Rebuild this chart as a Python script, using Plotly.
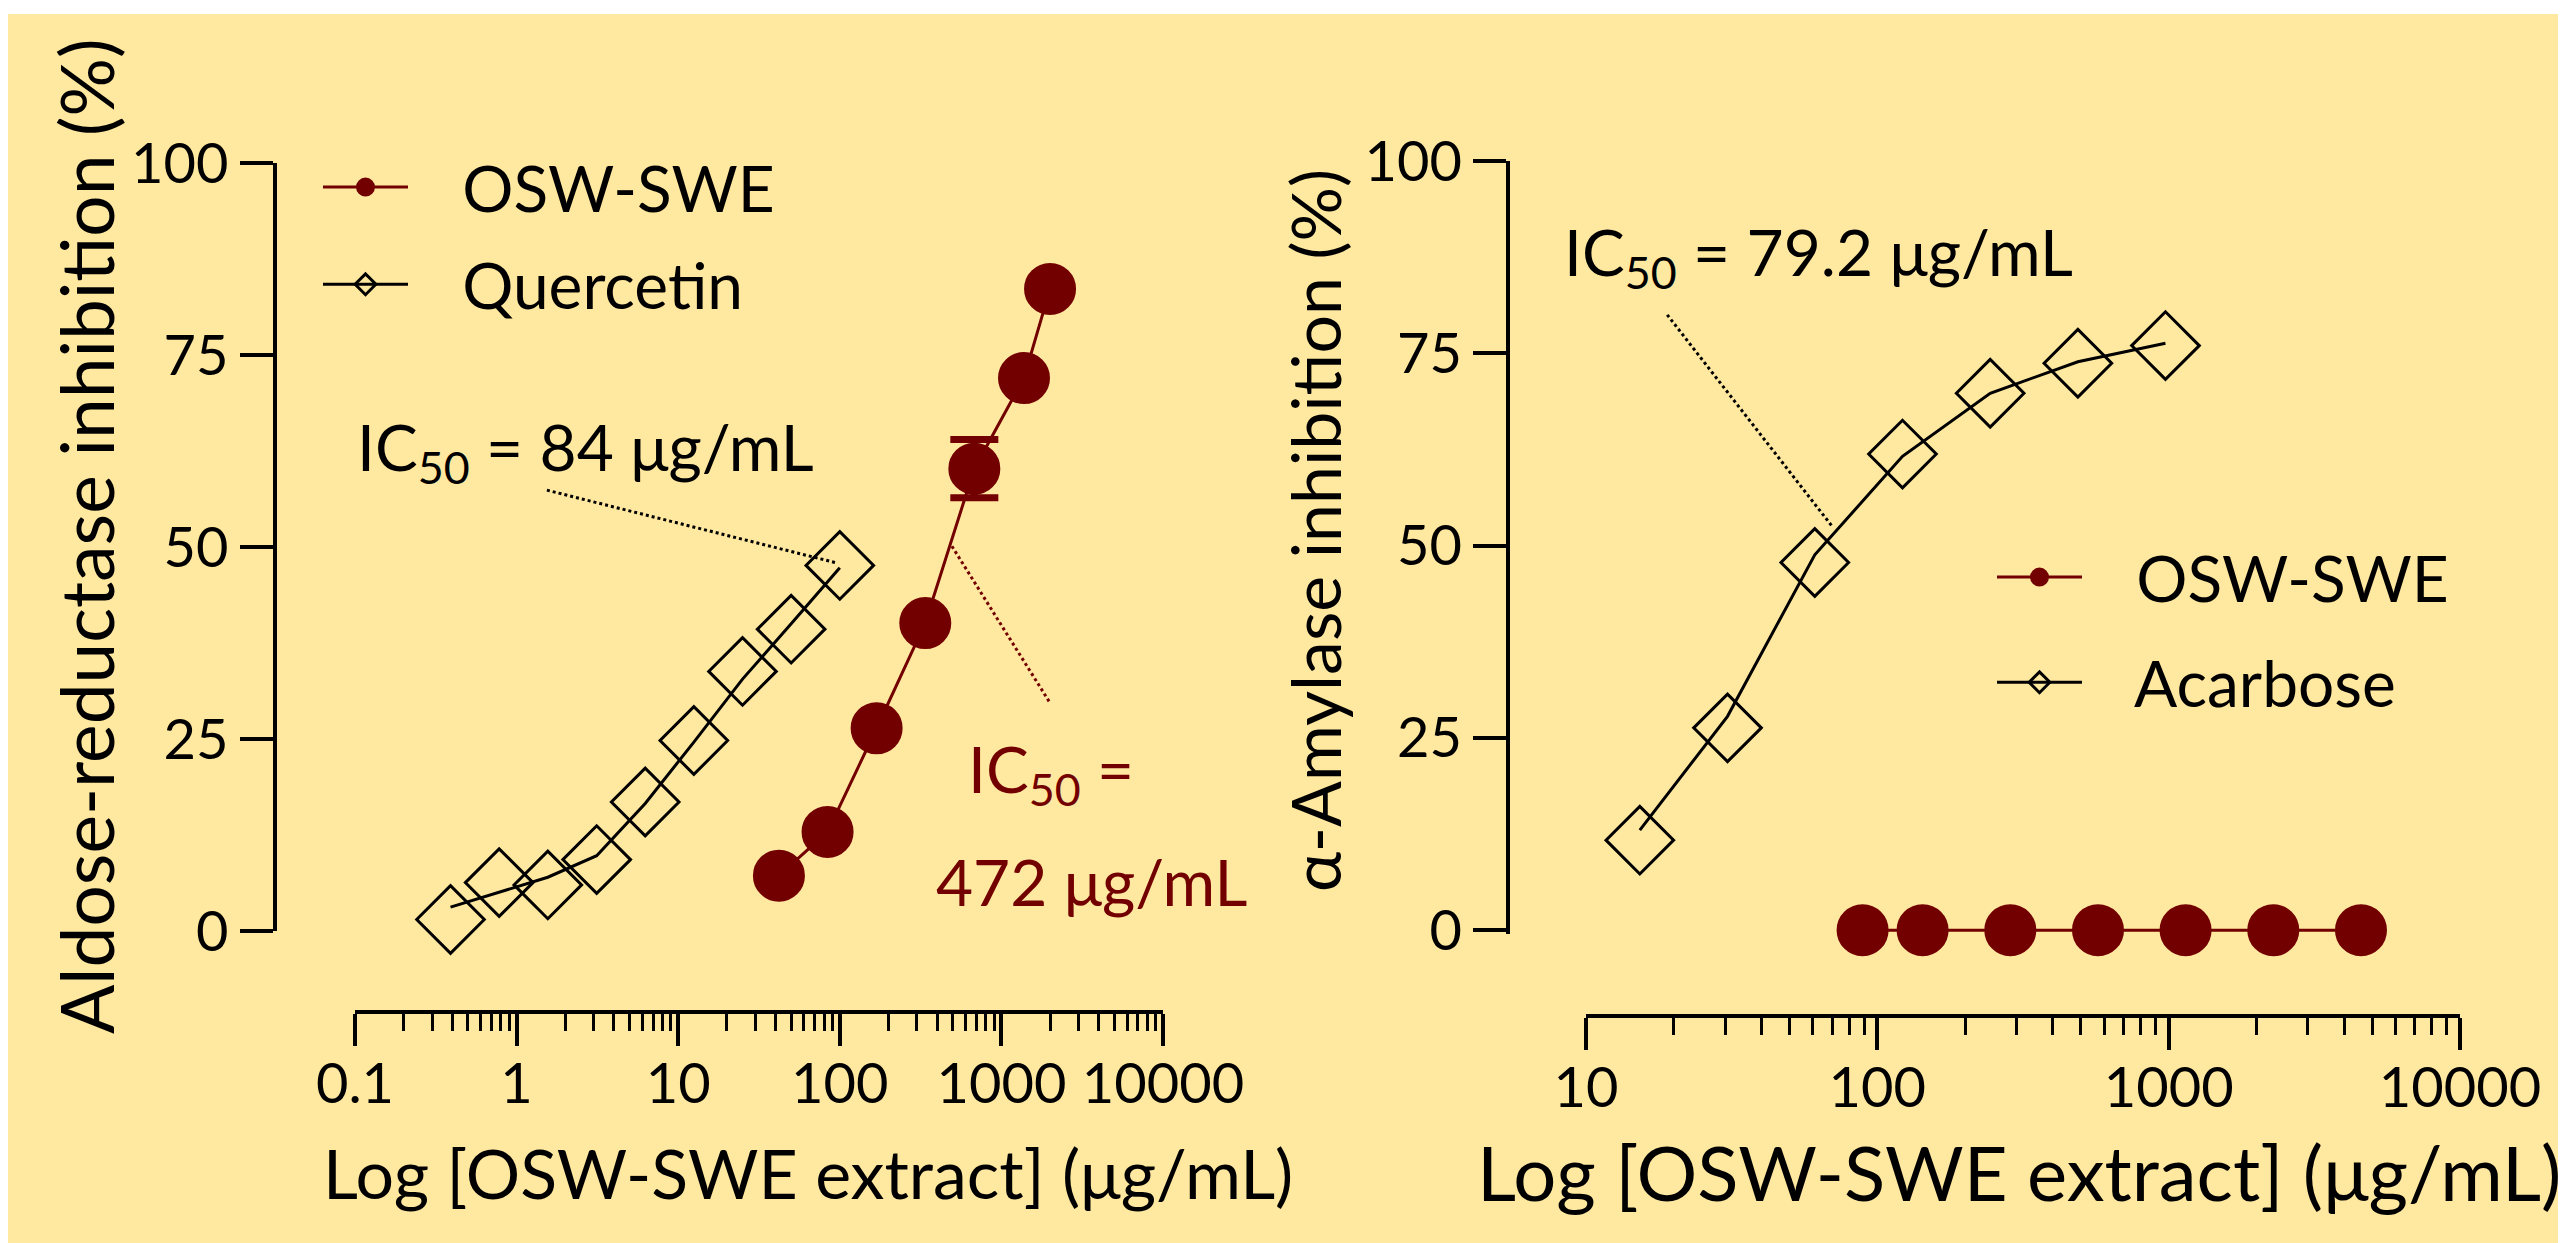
import numpy as np
import plotly.graph_objects as go

W, H = 2566, 1243
BG = "#FFE8A0"
DARKRED = "#730000"
FONT = "Lato"

# ---------------- Data: left panel (aldose reductase) ----------------
ar_osw_conc = [42, 84, 169, 338, 680, 1380, 2000]
ar_osw_inhib = [7.2, 12.9, 26.4, 40.1, 60.2, 72.0, 83.6]
ar_osw_err = [None, None, None, None, 3.8, None, None]
quer_conc = [0.39, 0.78, 1.56, 3.13, 6.25, 12.5, 25, 50, 100]
quer_inhib = [1.5, 6.3, 6.0, 9.3, 16.8, 24.8, 33.8, 39.3, 47.6]
quer_fit = [3.1, 5.0, 7.0, 9.8, 16.6, 24.6, 32.8, 40.0, 47.3]

# ---------------- Data: right panel (alpha-amylase) ----------------
am_osw_conc = [89, 143, 286, 572, 1143, 2286, 4572]
am_osw_inhib = [0, 0, 0, 0, 0, 0, 0]
acar_conc = [15.3, 30.6, 61, 122, 244, 488, 975]
acar_inhib = [11.7, 26.3, 47.8, 61.9, 69.8, 73.7, 76.0]
acar_fit = [13.0, 27.8, 48.8, 61.6, 69.8, 73.9, 76.3]

# IC50 leader lines (data units)
ar_quer_ic50_x = [1.54, 96.8]
ar_quer_ic50_y = [57.4, 47.9]
ar_osw_ic50_x = [494, 1972]
ar_osw_ic50_y = [50.1, 29.9]
am_acar_ic50_x = [19.0, 70.3]
am_acar_ic50_y = [80.0, 52.4]

# IC50 label centres (data units: concentration, % inhibition)
ar_quer_label = (2.65, 62.5)
ar_osw_label1 = (2028, 20.6)
ar_osw_label2 = (3590, 6.4)
am_acar_label = (63, 87.6)

x_ticks_left = [0.1, 1, 10, 100, 1000, 10000]
x_ticks_right = [10, 100, 1000, 10000]
y_ticks = [0, 25, 50, 75, 100]

NB = "\u00a0" * 3

fig = go.Figure()

def fit_trace(x, y, color, name, symbol, size, xa, ya, legend, group):
    return go.Scatter(
        x=x, y=y, mode="lines+markers", name=NB + name,
        line=dict(color=color, width=3),
        marker=dict(symbol=symbol, size=size, color=color,
                    line=dict(width=3, color=color)),
        selectedpoints=[], unselected=dict(marker=dict(opacity=0)),
        xaxis=xa, yaxis=ya, legend=legend, legendgroup=group,
        cliponaxis=False, hoverinfo="skip",
    )

def marker_trace(x, y, color, symbol, size, xa, ya, err=None):
    kw = {}
    if err is not None:
        kw["error_y"] = dict(type="data", array=err, visible=True,
                             color=color, thickness=7, width=24)
    return go.Scatter(
        x=x, y=y, mode="markers", showlegend=False,
        marker=dict(symbol=symbol, size=size, color=color,
                    line=dict(width=3, color=color)),
        xaxis=xa, yaxis=ya, cliponaxis=False, **kw,
    )

def leader(x, y, color, xa, ya):
    return go.Scatter(x=x, y=y, mode="lines", showlegend=False,
                      line=dict(color=color, width=3, dash="dot"),
                      xaxis=xa, yaxis=ya, hoverinfo="skip")

# Left panel
fig.add_trace(leader(ar_quer_ic50_x, ar_quer_ic50_y, "black", "x", "y"))
fig.add_trace(leader(ar_osw_ic50_x, ar_osw_ic50_y, DARKRED, "x", "y"))
fig.add_trace(fit_trace(ar_osw_conc, ar_osw_inhib, DARKRED, "OSW-SWE", "circle", 49, "x", "y", "legend", "a"))
fig.add_trace(fit_trace(quer_conc, quer_fit, "black", "Quercetin", "diamond-open", 52, "x", "y", "legend", "b"))
fig.add_trace(marker_trace(quer_conc, quer_inhib, "black", "diamond-open", 52, "x", "y"))
fig.add_trace(marker_trace(ar_osw_conc, ar_osw_inhib, DARKRED, "circle", 49, "x", "y", err=ar_osw_err))

# Right panel
fig.add_trace(leader(am_acar_ic50_x, am_acar_ic50_y, "black", "x2", "y2"))
fig.add_trace(fit_trace(am_osw_conc, am_osw_inhib, DARKRED, "OSW-SWE", "circle", 49, "x2", "y2", "legend2", "c"))
fig.add_trace(fit_trace(acar_conc, acar_fit, "black", "Acarbose", "diamond-open", 52, "x2", "y2", "legend2", "d"))
fig.add_trace(marker_trace(acar_conc, acar_inhib, "black", "diamond-open", 52, "x2", "y2"))
fig.add_trace(marker_trace(am_osw_conc, am_osw_inhib, DARKRED, "circle", 49, "x2", "y2"))

tickfont = dict(family=FONT, size=56, color="black")

def xaxis(domain, rng, pos, tickvals):
    return dict(
        type="log", range=rng, domain=domain, anchor="free", position=pos,
        automargin=False, tickangle=0, ticklabelstandoff=-10,
        showline=True, linecolor="black", linewidth=3.5,
        ticks="outside", ticklen=32, tickwidth=3.5, tickcolor="black",
        tickmode="array", tickvals=tickvals, ticktext=[f"{v:g}" for v in tickvals],
        minor=dict(tickmode="linear", dtick="D1", ticks="outside", ticklen=17,
                   tickwidth=3, tickcolor="black", showgrid=False),
        showgrid=False, zeroline=False, tickfont=tickfont,
    )

def yaxis(domain, rng, pos):
    return dict(
        range=rng, domain=domain, anchor="free", position=pos,
        automargin=False,
        showline=True, linecolor="black", linewidth=3.5,
        ticks="outside", ticklen=33, tickwidth=3.5, tickcolor="black",
        tickmode="array", tickvals=y_ticks, ticktext=[str(v) for v in y_ticks],
        showgrid=False, zeroline=False, tickfont=tickfont,
    )

fig.update_layout(
    width=W, height=H,
    margin=dict(l=0, r=0, t=0, b=0, autoexpand=False),
    paper_bgcolor="white", plot_bgcolor="rgba(0,0,0,0)",
    font=dict(family=FONT, color="black"),
    xaxis=xaxis([347 / W, 1155 / W], [-1, 4], 1 - 1004 / H, x_ticks_left),
    yaxis=yaxis([1 - 923 / H, 1 - 155 / H], [0, 100], 266.5 / W),
    xaxis2=xaxis([1578 / W, 2452 / W], [1, 4], 1 - 1008 / H, x_ticks_right),
    yaxis2=yaxis([1 - 926 / H, 1 - 153 / H], [-0.5, 100], 1500 / W),
    legend=dict(x=310 / W, y=1 - 131 / H, xanchor="left", yanchor="top",
                bgcolor="rgba(0,0,0,0)", itemwidth=85, tracegroupgap=11,
                traceorder="grouped", font=dict(family=FONT, size=64, color="black")),
    legend2=dict(x=1984 / W, y=1 - 521 / H, xanchor="left", yanchor="top",
                 bgcolor="rgba(0,0,0,0)", itemwidth=85, tracegroupgap=19,
                 traceorder="grouped", font=dict(family=FONT, size=64, color="black")),
    shapes=[dict(type="rect", xref="paper", yref="paper", x0=0, x1=1, y0=0,
                 y1=1 - 6 / H, fillcolor=BG, line=dict(width=0), layer="below")],
    showlegend=True,
)

ann = []
def add_label(text, x, y, xref, yref, color="black", size=64):
    ann.append(dict(text=text, x=np.log10(x), y=y, xref=xref, yref=yref,
                    xanchor="center", yanchor="middle", showarrow=False,
                    font=dict(family=FONT, size=size, color=color)))

add_label("IC<sub>50</sub> = 84 μg/mL", *ar_quer_label, "x", "y")
add_label("IC<sub>50</sub> =", *ar_osw_label1, "x", "y", color=DARKRED)
add_label("472 μg/mL", *ar_osw_label2, "x", "y", color=DARKRED)
add_label("IC<sub>50</sub> = 79.2 μg/mL", *am_acar_label, "x2", "y2")

# Axis titles
ann.append(dict(text="Log [OSW-SWE extract] (μg/mL)", x=800 / W, y=1 - 1164 / H,
                xref="paper", yref="paper", xanchor="center", yanchor="middle",
                showarrow=False, font=dict(family=FONT, size=68, color="black")))
ann.append(dict(text="Log [OSW-SWE extract] (μg/mL)", x=2011 / W, y=1 - 1163 / H,
                xref="paper", yref="paper", xanchor="center", yanchor="middle",
                showarrow=False, font=dict(family=FONT, size=76, color="black")))
ann.append(dict(text="Aldose-reductase inhibition (%)", x=78 / W, y=1 - 528 / H,
                xref="paper", yref="paper", xanchor="center", yanchor="middle",
                textangle=-90, showarrow=False,
                font=dict(family=FONT, size=73, color="black")))
ann.append(dict(text="α-Amylase inhibition (%)", x=1306 / W, y=1 - 522 / H,
                xref="paper", yref="paper", xanchor="center", yanchor="middle",
                textangle=-90, showarrow=False,
                font=dict(family=FONT, size=68, color="black")))

fig.update_layout(annotations=ann)
fig.write_html("out.html")
